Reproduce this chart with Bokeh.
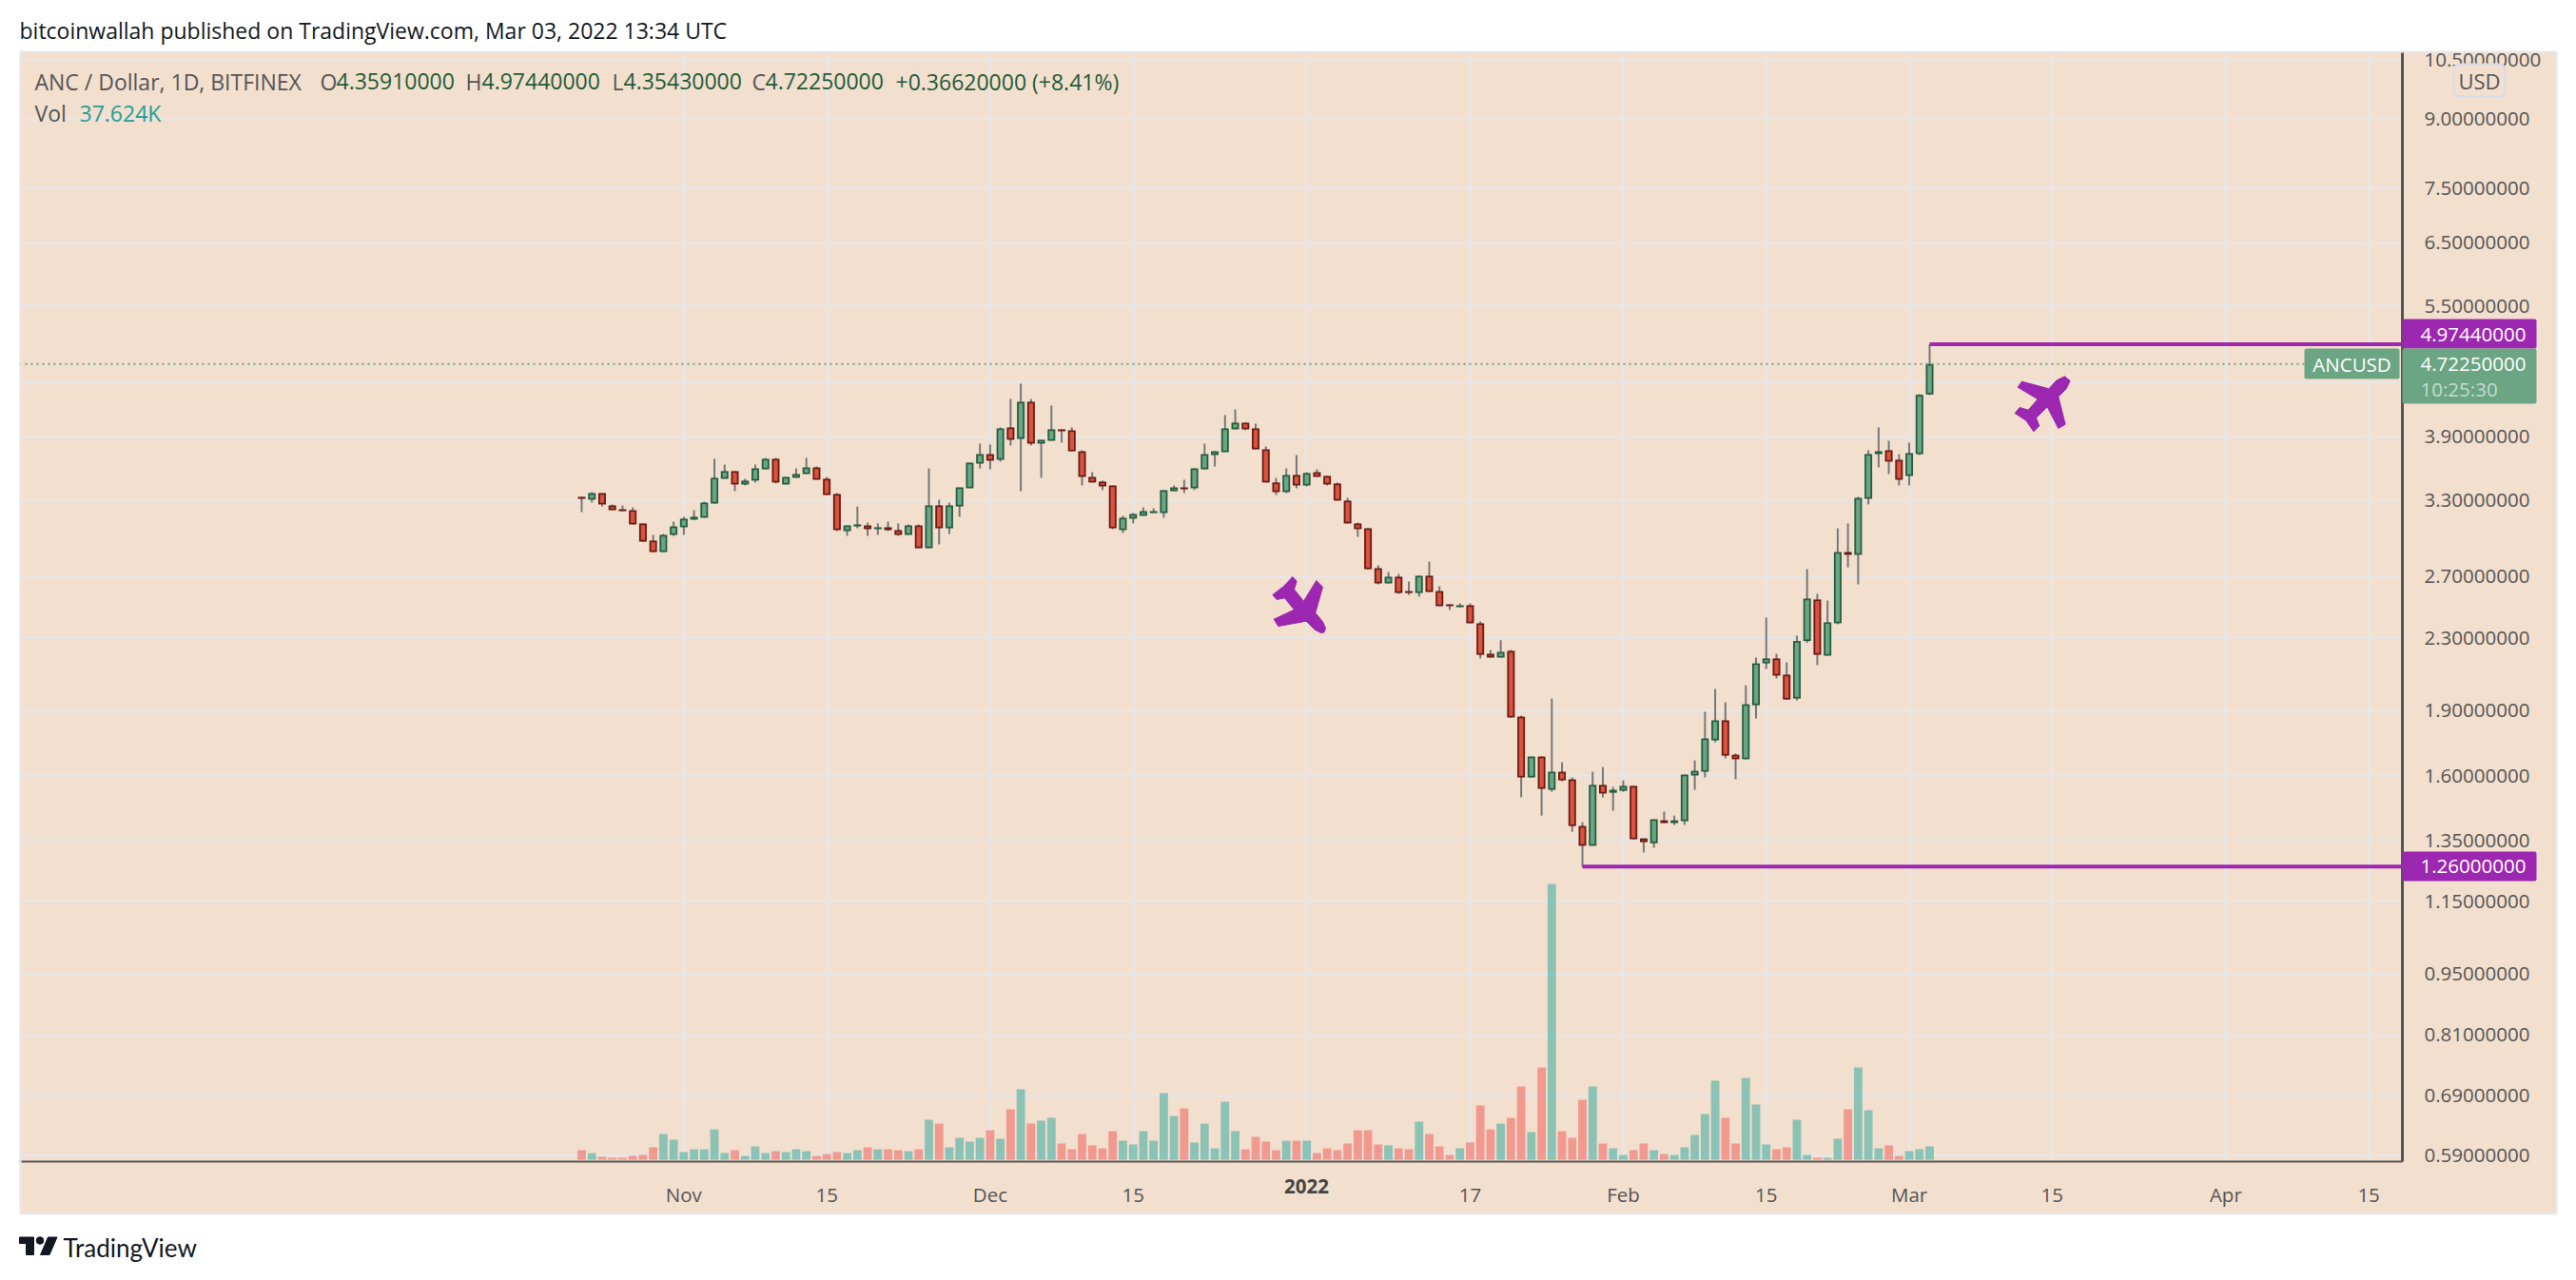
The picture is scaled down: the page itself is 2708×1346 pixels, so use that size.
import math
import pandas as pd
from bokeh.embed import file_html
from bokeh.resources import INLINE
from bokeh.plotting import figure
from bokeh.layouts import column
from bokeh.models import Range1d, FixedTicker, PrintfTickFormatter, LinearScale
from bokeh.core.properties import value

first_day = "2021-10-22"
opens = [3.331,3.306,3.364,3.257,3.224,3.216,3.106,2.969,2.881,3.014,3.075,3.137,3.153,3.273,3.493,3.564,3.441,3.476,3.581,3.681,3.441,3.502,3.537,3.599,3.493,3.356,3.044,3.082,3.090,3.060,3.075,3.052,3.014,3.090,2.910,3.257,3.067,3.248,3.407,3.635,3.727,3.672,3.998,3.879,4.277,3.831,3.860,3.978,3.968,3.755,3.510,3.467,3.432,3.052,3.145,3.169,3.192,3.192,3.381,3.415,3.407,3.581,3.718,3.746,3.978,4.048,3.988,3.774,3.459,3.373,3.528,3.432,3.554,3.519,3.450,3.298,3.106,3.067,2.761,2.653,2.700,2.600,2.587,2.707,2.600,2.511,2.492,2.505,2.389,2.205,2.183,2.222,1.869,1.593,1.683,1.542,1.617,1.585,1.402,1.331,1.562,1.530,1.538,1.558,1.357,1.340,1.423,1.413,1.420,1.601,1.617,1.756,1.851,1.691,1.671,1.926,2.150,2.178,2.087,1.960,2.280,2.543,2.194,2.389,2.881,2.860,3.314,3.727,3.765,3.672,3.519,3.727,4.3591]
highs = [3.331,3.373,3.364,3.265,3.257,3.240,3.106,3.014,3.021,3.121,3.161,3.216,3.289,3.681,3.626,3.564,3.493,3.626,3.690,3.690,3.510,3.590,3.690,3.608,3.510,3.364,3.090,3.248,3.113,3.106,3.121,3.106,3.098,3.098,3.590,3.306,3.281,3.415,3.644,3.831,3.822,3.998,4.309,4.485,4.309,3.870,4.234,3.978,3.998,3.765,3.554,3.476,3.432,3.169,3.192,3.240,3.232,3.390,3.432,3.484,3.590,3.831,3.755,4.130,4.192,4.048,4.038,3.803,3.502,3.590,3.718,3.554,3.581,3.519,3.459,3.322,3.113,3.067,2.782,2.734,2.720,2.666,2.707,2.810,2.633,2.511,2.517,2.517,2.401,2.227,2.285,2.227,1.874,1.683,1.683,1.960,1.658,1.593,1.416,1.617,1.637,1.554,1.581,1.558,1.357,1.427,1.456,1.441,1.605,1.666,1.893,2.010,1.941,1.696,2.030,2.183,2.425,2.205,2.156,2.312,2.754,2.581,2.536,3.067,3.106,3.331,3.765,3.998,3.860,3.727,3.841,4.363,4.9744]
lows = [3.200,3.281,3.248,3.216,3.208,3.098,2.961,2.881,2.881,3.006,3.014,3.137,3.153,3.273,3.493,3.381,3.432,3.459,3.581,3.450,3.441,3.502,3.537,3.484,3.347,3.044,3.006,3.067,3.006,3.014,3.044,3.006,3.014,2.910,2.910,2.939,3.021,3.161,3.407,3.590,3.581,3.654,3.812,3.381,3.812,3.502,3.860,3.841,3.755,3.432,3.459,3.390,3.060,3.029,3.106,3.169,3.192,3.153,3.381,3.364,3.390,3.581,3.608,3.746,3.978,3.968,3.774,3.459,3.347,3.364,3.407,3.424,3.510,3.432,3.298,3.106,2.999,2.754,2.646,2.653,2.581,2.574,2.562,2.594,2.499,2.474,2.492,2.389,2.178,2.183,2.183,1.865,1.512,1.593,1.441,1.534,1.577,1.381,1.260,1.331,1.512,1.459,1.534,1.354,1.308,1.324,1.413,1.406,1.406,1.542,1.593,1.747,1.675,1.585,1.671,1.860,2.118,2.066,1.955,1.950,2.269,2.140,2.194,2.383,2.768,2.646,3.265,3.599,3.537,3.432,3.432,3.718,4.3543]
closes = [3.314,3.364,3.265,3.216,3.208,3.098,2.961,2.881,3.014,3.082,3.145,3.161,3.281,3.502,3.564,3.441,3.476,3.590,3.681,3.459,3.510,3.537,3.599,3.484,3.347,3.052,3.090,3.098,3.060,3.075,3.052,3.014,3.090,2.910,3.257,3.067,3.257,3.415,3.644,3.727,3.663,3.988,3.870,4.277,3.831,3.870,3.978,3.958,3.755,3.510,3.459,3.424,3.067,3.153,3.184,3.208,3.208,3.390,3.415,3.398,3.590,3.727,3.755,3.988,4.048,3.978,3.774,3.459,3.373,3.528,3.432,3.546,3.510,3.441,3.298,3.106,3.060,2.754,2.653,2.700,2.587,2.587,2.707,2.594,2.499,2.499,2.505,2.389,2.199,2.183,2.216,1.865,1.593,1.683,1.546,1.617,1.581,1.402,1.331,1.562,1.527,1.542,1.558,1.354,1.344,1.427,1.413,1.423,1.605,1.621,1.765,1.851,1.687,1.671,1.931,2.150,2.178,2.082,1.955,2.280,2.549,2.199,2.395,2.881,2.860,3.322,3.727,3.755,3.654,3.484,3.737,4.356,4.7225]
volumes_k = [26.9,18.8,8.1,5.4,5.4,10.7,13.4,34.9,72.6,56.4,21.5,29.6,29.6,86.0,18.8,26.9,10.7,37.6,18.8,24.2,21.5,29.6,24.2,10.7,16.1,21.5,18.8,26.9,34.9,29.6,29.6,26.9,24.2,29.6,112.9,102.1,34.9,61.8,51.1,61.8,83.3,59.1,142.4,198.8,102.1,110.2,118.2,45.7,29.6,72.6,40.3,32.2,80.6,53.7,43.0,80.6,53.7,188.1,123.6,145.1,48.4,102.1,32.2,163.9,80.6,29.6,64.5,51.1,26.9,53.7,53.7,53.7,18.8,32.2,26.9,45.7,83.3,83.3,43.0,40.3,32.2,29.6,107.5,72.6,37.6,13.4,32.2,48.4,153.2,86.0,102.1,118.2,206.9,77.9,260.6,779.0,80.6,61.8,169.3,206.9,45.7,32.2,13.4,26.9,45.7,26.9,16.1,13.4,34.9,69.9,129.0,223.0,118.2,45.7,231.1,155.9,43.0,29.6,34.9,112.9,13.4,5.4,5.4,59.1,142.4,260.6,139.7,32.2,40.3,10.7,24.2,29.6,37.624]

price_ticks = [0.59,0.69,0.81,0.95,1.15,1.35,1.6,1.9,2.3,2.7,3.3,3.9,4.5,5.5,6.5,7.5,9.0,10.5]
date_ticks = ["2021-11-01","2021-11-15","2021-12-01","2021-12-15","2022-01-01","2022-01-17","2022-02-01","2022-02-15","2022-03-01","2022-03-15","2022-04-01","2022-04-15"]
date_labels = ["Nov","15","Dec","15","","17","Feb","15","Mar","15","Apr","15"]
low_level = 1.26
high_level = 4.9744
last_close = 4.7225

FONT = "Open Sans"
BG = "#f2dfce"
GRID = "#e7e6e6"
TXT = "#555555"
PURPLE = "#9c27b0"
UP_FILL, UP_EDGE = "#6ca584", "#225e3f"
DN_FILL, DN_EDGE = "#d9533f", "#6b1a14"
PX_DAY = 10.735
DAY_MS = 86400000

dates = pd.date_range(first_day, periods=len(opens))
t0 = dates[0].value / 1e6


def xd(px):
    return t0 + (px - 611) / PX_DAY * DAY_MS


def yd(py):
    return 3.3 * math.exp((525.7 - py) / 400)


p = figure(width=2668, height=1228, x_axis_type="datetime", y_axis_type="log",
           y_axis_location="right", toolbar_location=None, output_backend="svg",
           x_range=Range1d(xd(20), xd(2525)), y_range=Range1d(yd(1221), yd(54)),
           min_border_left=0, min_border_top=6, min_border_right=163, min_border_bottom=55,
           background_fill_color=BG, border_fill_color=BG, outline_line_color=None,
           margin=(0, 0, 0, 20), frame_align=False)
p.extra_y_ranges = {"vol": Range1d(-5.4, 3130)}
p.extra_y_scales = {"vol": LinearScale()}

tick_ms = [int(pd.Timestamp(d).value / 1e6) for d in date_ticks]
xax = p.xaxis[0]
xax.ticker = FixedTicker(ticks=tick_ms)
xax.major_label_overrides = {t: l for t, l in zip(tick_ms, date_labels)}
xax.axis_line_color = TXT
xax.axis_line_width = 2
xax.major_tick_line_color = None
xax.minor_tick_line_color = None
xax.major_label_standoff = 14
xax.major_label_text_font = FONT
xax.major_label_text_font_size = "20.5px"
xax.major_label_text_color = TXT

yax = p.yaxis[0]
yax.ticker = FixedTicker(ticks=price_ticks)
yax.formatter = PrintfTickFormatter(format="%.8f")
yax.major_label_overrides = {4.5: ""}
yax.axis_line_color = TXT
yax.axis_line_width = 3
yax.major_tick_line_color = None
yax.minor_tick_line_color = None
yax.major_label_standoff = 17
yax.major_label_text_font = FONT
yax.major_label_text_font_size = "20.5px"
yax.major_label_text_color = TXT

p.xgrid.grid_line_color = GRID
p.xgrid.grid_line_width = 2.5
p.ygrid.grid_line_color = GRID
p.ygrid.grid_line_width = 2.5

up = [c >= o for o, c in zip(opens, closes)]

# volume
p.vbar(x=dates, top=volumes_k, bottom=0, width=0.82 * DAY_MS, y_range_name="vol", line_color=None,
       fill_color=["#26a69a" if u else "#ef5350" for u in up], fill_alpha=0.5)

# wicks
p.segment(x0=dates, x1=dates, y0=lows, y1=highs, line_color="#787878", line_width=2)

# candle bodies: dark edge box, lighter inner box
tops = [max(o, c) for o, c in zip(opens, closes)]
bots = [min(o, c) for o, c in zip(opens, closes)]
p.vbar(x=dates, top=tops, bottom=bots, width=8.0 / PX_DAY * DAY_MS, line_color=None,
       fill_color=[UP_EDGE if u else DN_EDGE for u in up])
inset = math.exp(1.7 / 400)
inner = [(d, t / inset, b * inset, u) for d, t, b, u in zip(dates, tops, bots, up) if t / inset > b * inset]
p.vbar(x=[i[0] for i in inner], top=[i[1] for i in inner], bottom=[i[2] for i in inner],
       width=4.4 / PX_DAY * DAY_MS, line_color=None,
       fill_color=[UP_FILL if i[3] else DN_FILL for i in inner])

# levels
p.line([xd(20), xd(2422)], [last_close, last_close], line_color=UP_FILL, line_width=2, line_dash="2 4")
p.line([dates[-1], xd(2525)], [high_level, high_level], line_color=PURPLE, line_width=4)
low_day = dates[lows.index(low_level)]
p.line([low_day, xd(2525)], [low_level, low_level], line_color=PURPLE, line_width=4)

# plane icons, outlined in page pixels
plane_up = [(1085,178),(1060,205),(975,182),(962,200),(1025,238),(995,272),(968,264),(953,282),(988,305),(1012,340),(1030,322),(1020,297),(1055,262),(1090,330),(1112,317),(1090,230),(1115,205),(1127,180),(1110,166)]
plane_dn = [(275,253),(265,255),(245,245),(218,218),(130,234),(116,212),(180,182),(150,145),(125,150),(112,135),(147,108),(175,78),(188,92),(180,118),(210,155),(250,90),(270,110),(247,192),(270,220),(279,240)]
p.patch([xd(1800 + a / 3) for a, b in plane_up], [yd(340 + b / 3) for a, b in plane_up], color=PURPLE)
p.patch([xd(1300 + a / 3) for a, b in plane_dn], [yd(580 + b / 3) for a, b in plane_dn], color=PURPLE)

# transparent overlay in page pixels: price tags and the legend
over = figure(width=2700, height=1338, toolbar_location=None, output_backend="svg",
              x_range=Range1d(0, 2700), y_range=Range1d(1338, 0), min_border=0,
              background_fill_color=None, border_fill_color=None, outline_line_color=None,
              margin=(0, 0, 0, 0), frame_align=False,
              styles={"position": "absolute", "left": "0px", "top": "0px"})
over.axis.visible = False
over.grid.visible = False


def box(l, r, t, b, color, line=None, radius=0, alpha=1):
    over.quad(left=[l], right=[r], top=[t], bottom=[b], fill_color=color, fill_alpha=alpha,
              line_color=line, line_width=2, border_radius=radius)


def txt(s, x, y, color=TXT, size=20.5, align="left", style="normal"):
    over.text(x=[x], y=[y], text=[s], text_color=color, text_font=value(FONT), text_font_size=f"{size}px",
              text_align=align, text_baseline="middle", text_font_style=style)


box(20, 2688, 48, 54, "#ffffff")
box(21, 2687, 54, 1276, BG, line="#e6e8ee", alpha=0)
box(2579, 2633, 67, 101, BG, line="#d6dce8", radius=6)
txt("USD", 2606, 84, align="center", size=22)
box(2525, 2666, 335, 366, PURPLE, radius=2)
txt("4.97440000", 2544, 351, "#ffffff")
box(2525, 2666, 366, 424, UP_FILL, radius=2)
txt("4.72250000", 2544, 382, "#ffffff")
txt("10:25:30", 2544, 408, "#c5dccf")
box(2422, 2522, 366, 398, UP_FILL, radius=2)
txt("ANCUSD", 2472, 382, "#ffffff", align="center")
box(2525, 2666, 895, 926, PURPLE, radius=2)
txt("1.26000000", 2544, 910, "#ffffff")
txt("2022", 1373, 1247, "#444444", align="center", style="bold")

GREEN = "#1e5b38"
LEG = 23
txt("ANC / Dollar, 1D, BITFINEX", 36, 85, size=LEG)
for lab, lx, val, vx in [("O", 336, "4.35910000", 353), ("H", 489, "4.97440000", 506),
                         ("L", 643, "4.35430000", 655), ("C", 790, "4.72250000", 804)]:
    txt(lab, lx, 85, size=LEG)
    txt(val, vx, 85, GREEN, size=LEG)
txt("+0.36620000 (+8.41%)", 941, 85, GREEN, size=LEG)
txt("Vol", 36, 118, size=LEG)
txt("37.624K", 83, 118, "#22a094", size=LEG)

# header and footer strips, in page pixels
head = figure(width=2700, height=48, toolbar_location=None, output_backend="svg",
              x_range=Range1d(0, 2700), y_range=Range1d(48, 0), min_border=0,
              outline_line_color=None, margin=(0, 0, 0, 0), frame_align=False)
head.axis.visible = False
head.grid.visible = False
head.text(x=[20], y=[31], text=["bitcoinwallah published on TradingView.com, Mar 03, 2022 13:34 UTC"],
          text_font=value(FONT), text_font_size="23px", text_color="#131722", text_baseline="middle")

foot = figure(width=2700, height=62, toolbar_location=None, output_backend="svg",
              x_range=Range1d(0, 2700), y_range=Range1d(1338, 1276), min_border=0,
              outline_line_color=None, margin=(0, 0, 0, 0), frame_align=False)
foot.axis.visible = False
foot.grid.visible = False
INK = "#131722"
foot.patch([20, 35, 35, 27, 27, 20], [1300.5, 1300.5, 1319, 1319, 1307, 1307], color=INK)
foot.scatter([41.5], [1304], size=7.5, color=INK, marker="circle")
foot.patch([50, 59.5, 51.5, 42], [1300.5, 1300.5, 1319, 1319], color=INK)
foot.text(x=[66], y=[1311], text=["TradingView"], text_font=value("Lato"), text_font_size="26px",
          text_color=INK, text_baseline="middle")

page = column(head, p, foot, over, spacing=0)
open("out.html", "w").write(file_html(page, INLINE))
